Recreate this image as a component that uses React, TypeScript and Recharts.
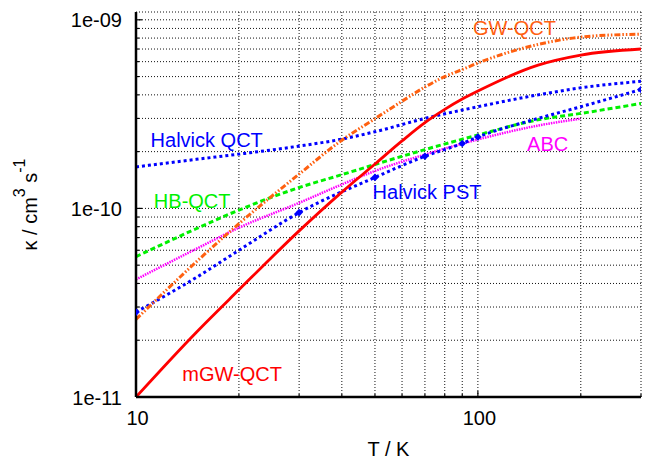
import React from 'react';
import { ComposedChart, Line, XAxis, YAxis, CartesianGrid, ReferenceDot } from 'recharts';

const FONT = '"Liberation Sans", Arial, Helvetica, sans-serif';

// axis ticks (grid at every tick, text only where given)
const xTicks = [10, 20, 30, 40, 50, 60, 70, 80, 90, 100, 200, 300];
const xTickText = ['10', '', '', '', '', '', '', '', '', '100', '', ''];
const yTicks = [
    1e-11, 2e-11, 3e-11, 4e-11, 5e-11, 6e-11, 7e-11, 8e-11, 9e-11,
    1e-10, 2e-10, 3e-10, 4e-10, 5e-10, 6e-10, 7e-10, 8e-10, 9e-10,
    1e-9,
];
const yTickText = [
    '1e-11', '', '', '', '', '', '', '', '',
    '1e-10', '', '', '', '', '', '', '', '',
    '1e-09',
];

// mGW-QCT
const mgwT = [10, 15, 20, 30, 40, 50, 60, 70, 80, 90, 100, 150, 200, 300];
const mgwK = [1.0e-11, 2.2e-11, 3.7e-11, 7.6e-11, 1.22e-10, 1.72e-10, 2.28e-10, 2.85e-10, 3.35e-10, 3.8e-10, 4.19e-10, 5.75e-10, 6.5e-10, 7.0e-10];

// GW-QCT
const gwT = [10, 15, 20, 30, 40, 50, 60, 70, 80, 90, 100, 150, 200, 300];
const gwK = [2.58e-11, 5.2e-11, 8.3e-11, 1.52e-10, 2.3e-10, 2.99e-10, 3.7e-10, 4.4e-10, 5.0e-10, 5.45e-10, 5.9e-10, 7.4e-10, 8.1e-10, 8.4e-10];

// Halvick QCT
const hqctT = [10, 15, 20, 30, 40, 50, 70, 100, 150, 200, 300];
const hqctK = [1.66e-10, 1.82e-10, 1.94e-10, 2.14e-10, 2.33e-10, 2.55e-10, 3.0e-10, 3.46e-10, 4.0e-10, 4.36e-10, 4.72e-10];

// HB-QCT
const hbT = [10, 15, 20, 30, 40, 50, 70, 100, 150, 200, 300];
const hbK = [5.55e-11, 7.8e-11, 9.8e-11, 1.29e-10, 1.51e-10, 1.71e-10, 2.05e-10, 2.45e-10, 2.95e-10, 3.19e-10, 3.6e-10];

// ABC
const abcT = [10, 15, 20, 30, 40, 50, 70, 100, 150, 200];
const abcK = [4.2e-11, 6.1e-11, 7.9e-11, 1.07e-10, 1.34e-10, 1.58e-10, 1.93e-10, 2.32e-10, 2.75e-10, 2.99e-10];

// Halvick PST (curve + computed points)
const pstT = [10, 15, 20, 30, 50, 70, 90, 100, 150, 200, 300];
const pstK = [2.82e-11, 4.3e-11, 6.0e-11, 9.5e-11, 1.46e-10, 1.89e-10, 2.21e-10, 2.39e-10, 3.0e-10, 3.46e-10, 4.27e-10];
const pstMarkT = [10, 30, 50, 70, 90, 100, 300];
const pstMarkK = [2.82e-11, 9.5e-11, 1.46e-10, 1.89e-10, 2.21e-10, 2.39e-10, 4.27e-10];

// in-plot series names
const labelNames = ['GW-QCT', 'Halvick QCT', 'HB-QCT', 'Halvick PST', 'ABC', 'mGW-QCT'];
const labelT = [128, 16.1, 14.6, 71, 160, 19.1];
const labelK = [9.07e-10, 2.32e-10, 1.09e-10, 1.22e-10, 2.19e-10, 1.32e-11];
const labelColors = ['#ff6010', '#0000ff', '#00f000', '#0000ff', '#ff00ff', '#ff0000'];

const pts = (t: number[], k: number[]) => t.map((v, i) => ({ T: v, k: k[i] }));

const tickText = (ticks: number[], texts: string[], v: number) => texts[ticks.indexOf(v)] || '';

const BottomTick = (props: any) => {
    const { x, y, payload } = props;
    const txt = tickText(xTicks, xTickText, payload.value);
    return (
        <g>
            <line x1={x} x2={x} y1={y} y2={y - (txt ? 6 : 3)} stroke="#000" strokeWidth={1.2} />
            {txt && (
                <text x={x + 1.5} y={y + 28} textAnchor="middle" fontSize={20} fill="#000" fontFamily={FONT}>
                    {txt}
                </text>
            )}
        </g>
    );
};

const TopTick = (props: any) => {
    const { x, y, payload } = props;
    const txt = tickText(xTicks, xTickText, payload.value);
    return <line x1={x} x2={x} y1={y} y2={y + (txt ? 6 : 3)} stroke="#000" strokeWidth={1.2} />;
};

const LeftTick = (props: any) => {
    const { x, y, payload } = props;
    const txt = tickText(yTicks, yTickText, payload.value);
    return (
        <g>
            <line x1={x} x2={x + (txt ? 6 : 3)} y1={y} y2={y} stroke="#000" strokeWidth={1.2} />
            {txt && (
                <text x={x - 14} y={y + 7.5} textAnchor="end" fontSize={20} fill="#000" fontFamily={FONT}>
                    {txt}
                </text>
            )}
        </g>
    );
};

const RightTick = (props: any) => {
    const { x, y, payload } = props;
    const txt = tickText(yTicks, yTickText, payload.value);
    return <line x1={x} x2={x - (txt ? 6 : 3)} y1={y} y2={y} stroke="#000" strokeWidth={1.2} />;
};

const YTitle = (props: any) => {
    const vb = props.viewBox;
    const cx = vb.x + 37;
    const cy = vb.y + vb.height / 2;
    return (
        <text x={cx} y={cy} transform={`rotate(-90 ${cx} ${cy})`} textAnchor="middle" fontSize={20} fill="#000" fontFamily={FONT}>
            κ / cm<tspan dy={-12} fontSize={16}>3</tspan>
            <tspan dy={12}> s</tspan>
            <tspan dy={-12} fontSize={16}>-1</tspan>
        </text>
    );
};

const XTitle = (props: any) => {
    const vb = props.viewBox;
    return (
        <text x={vb.x + vb.width / 2} y={vb.y + 59} textAnchor="middle" fontSize={20} fill="#000" fontFamily={FONT}>
            T / K
        </text>
    );
};

const Diamond = (props: any) => {
    const { cx, cy } = props;
    if (cx == null || cy == null) return null;
    const s = 3.8;
    return <path d={`M${cx},${cy - s}L${cx + s},${cy}L${cx},${cy + s}L${cx - s},${cy}Z`} fill="#0000ff" stroke="none" />;
};

const frame = { stroke: '#000', strokeWidth: 2.5 };

const App: React.FC = () => {
    return (
        <div style={{ width: 646, height: 459, background: '#fff', fontFamily: FONT }}>
            <style>{'body{margin:0}'}</style>
            <ComposedChart width={646} height={459} margin={{ top: 12, right: 5, bottom: 0, left: 0 }}>
                <CartesianGrid xAxisId="b" yAxisId="l" stroke="#111" strokeDasharray="1 2" strokeWidth={1} />
                <XAxis
                    xAxisId="b"
                    dataKey="T"
                    type="number"
                    scale="log"
                    domain={[10, 300]}
                    allowDataOverflow
                    ticks={xTicks}
                    interval={0}
                    height={62}
                    tickSize={0}
                    tickMargin={0}
                    tickLine={false}
                    axisLine={frame}
                    tick={<BottomTick />}
                    label={{ content: <XTitle /> }}
                />
                <XAxis
                    xAxisId="t"
                    orientation="top"
                    dataKey="T"
                    type="number"
                    scale="log"
                    domain={[10, 300]}
                    allowDataOverflow
                    ticks={xTicks}
                    interval={0}
                    height={0}
                    tickSize={0}
                    tickMargin={0}
                    tickLine={false}
                    axisLine={frame}
                    tick={<TopTick />}
                />
                <YAxis
                    yAxisId="l"
                    type="number"
                    scale="log"
                    domain={[1e-11, 1.1e-9]}
                    allowDataOverflow
                    ticks={yTicks}
                    interval={0}
                    width={136}
                    tickSize={0}
                    tickMargin={0}
                    tickLine={false}
                    axisLine={frame}
                    tick={<LeftTick />}
                    label={{ content: <YTitle /> }}
                />
                <YAxis
                    yAxisId="r"
                    orientation="right"
                    type="number"
                    scale="log"
                    domain={[1e-11, 1.1e-9]}
                    allowDataOverflow
                    ticks={yTicks}
                    interval={0}
                    width={0}
                    tickSize={0}
                    tickMargin={0}
                    tickLine={false}
                    axisLine={frame}
                    tick={<RightTick />}
                />

                <Line xAxisId="b" yAxisId="l" data={pts(abcT, abcK)} dataKey="k" type="monotone"
                    stroke="#ff00ff" strokeWidth={2.5} strokeDasharray="1.5 1"
                    dot={false} activeDot={false} isAnimationActive={false} />
                <Line xAxisId="b" yAxisId="l" data={pts(hbT, hbK)} dataKey="k" type="monotone"
                    stroke="#00f000" strokeWidth={3} strokeDasharray="5 3"
                    dot={false} activeDot={false} isAnimationActive={false} />
                <Line xAxisId="b" yAxisId="l" data={pts(hqctT, hqctK)} dataKey="k" type="monotone"
                    stroke="#0000ff" strokeWidth={3} strokeDasharray="3 3"
                    dot={false} activeDot={false} isAnimationActive={false} />
                <Line xAxisId="b" yAxisId="l" data={pts(pstT, pstK)} dataKey="k" type="monotone"
                    stroke="#0000ff" strokeWidth={3} strokeDasharray="3 3"
                    dot={false} activeDot={false} isAnimationActive={false} />
                <Line xAxisId="b" yAxisId="l" data={pts(pstMarkT, pstMarkK)} dataKey="k" type="linear"
                    stroke="none" strokeWidth={0} dot={<Diamond />} activeDot={false} isAnimationActive={false} />
                <Line xAxisId="b" yAxisId="l" data={pts(gwT, gwK)} dataKey="k" type="monotone"
                    stroke="#ff6010" strokeWidth={3} strokeDasharray="6 2 1.5 2 1.5 2"
                    dot={false} activeDot={false} isAnimationActive={false} />
                <Line xAxisId="b" yAxisId="l" data={pts(mgwT, mgwK)} dataKey="k" type="monotone"
                    stroke="#ff0000" strokeWidth={2.8}
                    dot={false} activeDot={false} isAnimationActive={false} />

                {labelNames.map((name, i) => (
                    <ReferenceDot
                        key={name}
                        xAxisId="b"
                        yAxisId="l"
                        x={labelT[i]}
                        y={labelK[i]}
                        r={0}
                        fill="none"
                        stroke="none"
                        label={{ value: name, position: 'center', fill: labelColors[i], fontSize: 20, fontFamily: FONT }}
                    />
                ))}
            </ComposedChart>
        </div>
    );
};

export default App;
